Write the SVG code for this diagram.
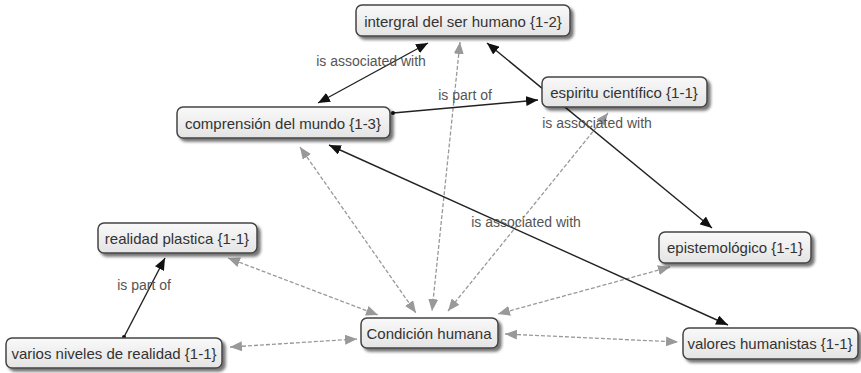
<svg xmlns="http://www.w3.org/2000/svg" width="861" height="373" viewBox="0 0 861 373">
<defs>
<linearGradient id="nodeFill" x1="0" y1="0" x2="0" y2="1">
<stop offset="0" stop-color="#f9f9f9"/>
<stop offset="1" stop-color="#e4e4e4"/>
</linearGradient>
<filter id="shadow" x="-10%" y="-30%" width="125%" height="170%">
<feGaussianBlur in="SourceAlpha" stdDeviation="1.5"/>
<feOffset dx="2.5" dy="3" result="b"/>
<feComponentTransfer><feFuncA type="linear" slope="0.55"/></feComponentTransfer>
<feMerge><feMergeNode/><feMergeNode in="SourceGraphic"/></feMerge>
</filter>
<marker id="ab" markerUnits="userSpaceOnUse" markerWidth="12" markerHeight="10" viewBox="0 0 12 10" refX="12" refY="5" orient="auto-start-reverse">
<path d="M0,0 L12,5 L0,10 z" fill="#111"/>
</marker>
<marker id="ag" markerUnits="userSpaceOnUse" markerWidth="12" markerHeight="10" viewBox="0 0 12 10" refX="12" refY="5" orient="auto-start-reverse">
<path d="M0,0 L12,5 L0,10 z" fill="#999"/>
</marker>
</defs>
<style>
.node rect { fill: url(#nodeFill); stroke: #444; stroke-width: 1.5; filter: url(#shadow); }
.node text { font-family: "Liberation Sans", Arial, sans-serif; font-size: 15px; fill: #333; text-anchor: middle; dominant-baseline: central; }
.lbl { font-family: "Liberation Sans", Arial, sans-serif; font-size: 14px; fill: #555; text-anchor: middle; dominant-baseline: central; }
.solid { stroke: #222; stroke-width: 1.4; fill: none; }
.dash { stroke: #999; stroke-width: 1.3; stroke-dasharray: 4 2; fill: none; }
</style>
<g id="connectors">
<line class="dash" x1="228" y1="258" x2="378" y2="315" marker-start="url(#ag)" marker-end="url(#ag)"/>
<line class="dash" x1="300" y1="147" x2="416" y2="313" marker-start="url(#ag)" marker-end="url(#ag)"/>
<line class="dash" x1="460" y1="42" x2="432" y2="311" marker-start="url(#ag)" marker-end="url(#ag)"/>
<line class="dash" x1="608" y1="113" x2="448" y2="311" marker-start="url(#ag)" marker-end="url(#ag)"/>
<line class="dash" x1="670" y1="267" x2="498" y2="314" marker-start="url(#ag)" marker-end="url(#ag)"/>
<line class="dash" x1="505" y1="334" x2="678" y2="342" marker-start="url(#ag)" marker-end="url(#ag)"/>
<line class="dash" x1="230" y1="347" x2="357" y2="339" marker-start="url(#ag)" marker-end="url(#ag)"/>
<line class="solid" x1="318" y1="103" x2="428" y2="43" marker-start="url(#ab)" marker-end="url(#ab)"/>
<line class="solid" x1="393" y1="113" x2="538" y2="100" marker-end="url(#ab)"/>
<circle cx="393" cy="113" r="2" fill="#111"/>
<line class="solid" x1="487" y1="43" x2="712" y2="228" marker-start="url(#ab)" marker-end="url(#ab)"/>
<line class="solid" x1="329" y1="145" x2="728" y2="325" marker-start="url(#ab)" marker-end="url(#ab)"/>
<line class="solid" x1="124" y1="337" x2="165" y2="258" marker-end="url(#ab)"/>
<circle cx="124" cy="337" r="2" fill="#111"/>
<text class="lbl" x="371" y="61">is associated with</text>
<text class="lbl" x="465" y="95">is part of</text>
<text class="lbl" x="597" y="123">is associated with</text>
<text class="lbl" x="526" y="222">is associated with</text>
<text class="lbl" x="144" y="285">is part of</text>
</g>
<g id="n-intergral" class="node"><rect x="356" y="5" width="214" height="31" rx="6"/><text x="463" y="21">intergral del ser humano {1-2}</text></g>
<g id="n-espiritu" class="node"><rect x="542" y="77" width="165" height="30" rx="6"/><text x="624" y="92">espiritu científico {1-1}</text></g>
<g id="n-comprension" class="node"><rect x="177" y="107" width="213" height="31" rx="6"/><text x="283" y="123">comprensión del mundo {1-3}</text></g>
<g id="n-realidad" class="node"><rect x="98" y="223" width="159" height="30" rx="6"/><text x="177" y="238">realidad plastica {1-1}</text></g>
<g id="n-epistemologico" class="node"><rect x="659" y="232" width="152" height="31" rx="6"/><text x="735" y="247">epistemológico {1-1}</text></g>
<g id="n-condicion" class="node"><rect x="361" y="318" width="137" height="30" rx="6"/><text x="429" y="333">Condición humana</text></g>
<g id="n-varios" class="node"><rect x="6" y="338" width="216" height="30" rx="6"/><text x="114" y="353">varios niveles de realidad {1-1}</text></g>
<g id="n-valores" class="node"><rect x="683" y="328" width="175" height="31" rx="6"/><text x="770" y="343">valores humanistas {1-1}</text></g>
</svg>
